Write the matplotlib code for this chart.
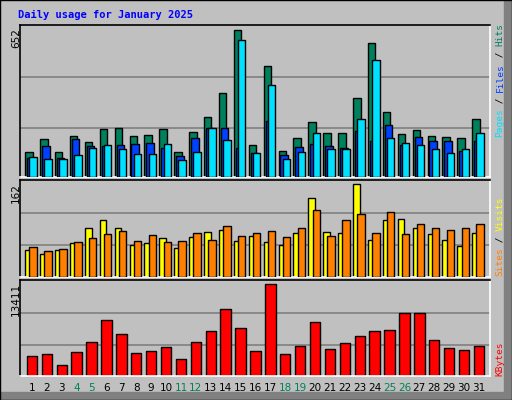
import matplotlib
matplotlib.use("Agg")
import matplotlib.pyplot as plt
import numpy as np

days = list(range(1, 32))
weekend = [4, 5, 11, 12, 18, 19, 25, 26]
hits = [111,170,111,181,155,214,218,181,187,214,111,199,266,372,652,143,493,117,174,245,196,196,351,594,289,192,209,183,178,174,258]
files = [86,139,86,170,139,139,143,148,152,130,94,174,218,218,130,108,249,99,134,148,139,130,205,161,232,143,178,161,161,117,161]
pages = [90,81,81,99,130,143,125,103,103,148,77,112,218,165,608,108,409,81,112,196,125,125,258,519,174,152,143,125,108,125,196]
sites = [48,41,48,60,85,99,85,56,60,69,51,70,79,83,63,72,62,56,77,139,79,77,162,65,100,102,85,76,65,55,77]
visits = [53,46,49,62,69,76,81,63,74,62,63,77,65,90,72,77,81,70,86,118,72,99,111,77,114,76,93,85,83,85,92]
kbytes = [2890,3280,1660,3570,5040,8120,6070,3420,3720,4300,2540,5040,6650,9740,7090,3720,13411,3280,4450,7830,4010,4890,5920,6650,6800,9150,9150,5330,4160,3860,4450]

BG = "#c0c0c0"
C_HITS, C_FILES, C_PAGES = "#00805c", "#0040ff", "#00e0ff"
C_SITES, C_VISITS, C_KB = "#ffff00", "#ff8000", "#ff0000"

W, H = 512, 400
fig = plt.figure(figsize=(W/100, H/100), dpi=100, facecolor=BG)
mono = "DejaVu Sans Mono"

def ax_at(y0, y1):
    return fig.add_axes([20/W, 1 - y1/H, 470/W, (y1 - y0)/H], facecolor=BG)

x = np.array(days, dtype=float)
kw = dict(edgecolor="black", linewidth=1, align="edge")

def setup(ax, top):
    ax.set_xlim(0.1, 31.64)
    ax.set_ylim(0, top)
    for f in (0.325, 0.66):
        ax.axhline(top * f, color="#808080", lw=1.2, zorder=0)
    ax.set_xticks([]); ax.set_yticks([])
    for s in ax.spines.values():
        s.set_color("black"); s.set_linewidth(1.2)
    ax.spines["right"].set_color("white")
    ax.spines["bottom"].set_color("white")

a1 = ax_at(25, 177)
setup(a1, max(hits) * 1.035)
a1.bar(x - 0.55, hits, 0.5, color=C_HITS, zorder=2, **kw)
a1.bar(x - 0.42, files, 0.5, color=C_FILES, zorder=3, **kw)
a1.bar(x - 0.27, pages, 0.5, color=C_PAGES, zorder=4, **kw)

a2 = ax_at(180, 277)
setup(a2, max(sites) * 1.047)
a2.bar(x - 0.55, sites, 0.45, color=C_SITES, zorder=2, **kw)
a2.bar(x - 0.27, visits, 0.5, color=C_VISITS, zorder=3, **kw)

a3 = ax_at(280, 376)
setup(a3, max(kbytes) * 1.047)
a3.bar(x - 0.45, kbytes, 0.7, color=C_KB, zorder=2, **kw)

for d in days:
    a3.text(d - 0.1, -0.07, str(d), transform=a3.get_xaxis_transform(), ha="center", va="top",
            fontsize=7.5, color="#00805c" if d in weekend else "black", family="DejaVu Sans")

fig.text(18/W, 1 - 15/H, "Daily usage for January 2025", color="#0000ff", fontsize=7.5,
         fontweight="bold", family=mono, va="center", ha="left")

for ax, val, ytop in ((a1, 652, 28), (a2, 162, 183), (a3, 13411, 283)):
    fig.text(16/W, 1 - ytop/H, str(val), rotation=90, ha="center", va="top", fontsize=7.5, family="DejaVu Sans")

fs = 6.8
cp = fs * 0.602 * 100 / 72
def vlabel(ybottom, parts):
    y = ybottom
    for t, c in parts:
        fig.text(500/W, 1 - y/H, t, rotation=90, ha="center", va="bottom", fontsize=fs, family=mono, color=c)
        y -= len(t) * cp
vlabel(137, [("Pages", C_PAGES), (" / ", "black"), ("Files", C_FILES), (" / ", "black"), ("Hits", C_HITS)])
vlabel(276, [("Sites", C_VISITS), (" / ", "black"), ("Visits", C_SITES)])
vlabel(376, [("KBytes", C_KB)])

from matplotlib.patches import Rectangle
fig.patches.append(Rectangle((0, 0), 1, 1, transform=fig.transFigure, fill=False, edgecolor="black", lw=1))
fig.patches.append(Rectangle((1 - 8/W, 0), 8/W, 1, transform=fig.transFigure, color="#808080", zorder=-1))
fig.patches.append(Rectangle((0, 0), 1, 8/H, transform=fig.transFigure, color="#808080", zorder=-1))

fig.savefig("out.png", dpi=100, facecolor=BG)
